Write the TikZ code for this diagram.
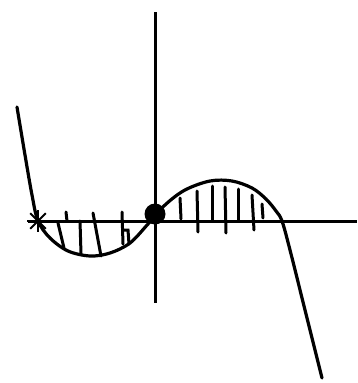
\documentclass[tikz,border=0pt]{standalone}
\begin{document}
\begin{tikzpicture}[x=1pt,y=-1pt,
  ink/.style={line width=3.2pt,line cap=round,line join=round},
  hatch/.style={line width=3pt,line cap=round}]
\useasboundingbox[fill=white] (0,0) rectangle (357,383);
% axes
\coordinate (yt) at (155,12);
\coordinate (yb) at (155,303);
\coordinate (xl) at (28,221);
\coordinate (xr) at (357,221);
\draw[line width=3pt] (yt) -- (yb);
\draw[line width=3pt] (xl) -- (xr);
% curve
\draw[ink] plot[smooth,tension=0.55] coordinates {
(17,107) (25,155) (32,195) (38,221) (50,238) (68,251) (90,256) (110,253)
(130,243) (148,224) (165,205) (185,190) (210,181) (232,181) (252,188)
(266,199) (276,211) (282,221) (290,250) (305,310) (322,378)};
% dot at origin
\node[circle,fill=black,minimum size=21pt,inner sep=0pt] (o) at (155,214) {};
% star at left root
\coordinate (s) at (38,221);
\foreach \a in {0,45,90,135,180,225,270,315}
  \draw[line width=2pt] (s) -- ++(\a:11);
% left hatching
\draw[hatch] (58,223) -- (64,248);
\draw[hatch] (66,212) -- (67,221);
\draw[hatch] (80,221) -- (81,254);
\draw[hatch] (93,213) -- (101,256);
\draw[hatch] (122,212) -- (123,244);
\draw[hatch] (123,230) -- (128,230) -- (129,244);
% right hatching
\draw[hatch] (180,198) -- (181,219);
\draw[hatch] (197,191) -- (198,232);
\draw[hatch] (212,186) -- (212,220);
\draw[hatch] (225,187) -- (226,233);
\draw[hatch] (238,189) -- (238,220);
\draw[hatch] (252,195) -- (254,230);
\draw[hatch] (262,204) -- (263,218);
\end{tikzpicture}
\end{document}
